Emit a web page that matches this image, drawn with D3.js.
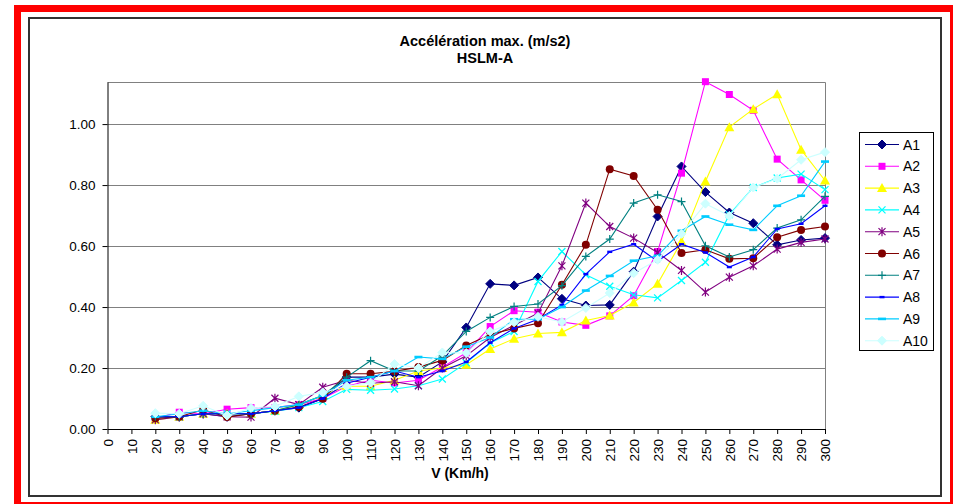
<!DOCTYPE html>
<html>
<head>
<meta charset="utf-8">
<script src="https://cdn.jsdelivr.net/npm/d3@7"></script>
<style>
  body { margin: 0; background: #fff; }
  svg { display: block; font-family: Arial, "Liberation Sans", sans-serif; }
</style>
</head>
<body>
<svg id="chart" width="953" height="504"></svg>
<script>
// speeds (km/h) and max acceleration (m/s2) per series
var speeds = [20, 30, 40, 50, 60, 70, 80, 90, 100, 110, 120, 130, 140, 150, 160, 170, 180, 190, 200, 210, 220, 230, 240, 250, 260, 270, 280, 290, 300]
var xTicks = [0, 10, 20, 30, 40, 50, 60, 70, 80, 90, 100, 110, 120, 130, 140, 150, 160, 170, 180, 190, 200, 210, 220, 230, 240, 250, 260, 270, 280, 290, 300]
var yTicks = [0, 0.2, 0.4, 0.6, 0.8, 1.0]

var A1 = [.04, .04, .05, .04, .05, .06, .07, .10, .17, .17, .18, .17, .22, .333, .476, .471, .497, .427, .405, .407, .516, .697, .861, .777, .71, .675, .604, .62, .626]
var A2 = [.035, .055, .05, .065, .07, .07, .08, .10, .14, .16, .151, .16, .203, .25, .336, .388, .383, .351, .34, .371, .437, .582, .839, 1.139, 1.097, 1.045, .885, .817, .75]
var A3 = [.03, .04, .05, .05, .05, .06, .08, .11, .14, .14, .16, .19, .20, .211, .262, .296, .313, .317, .356, .372, .415, .476, .615, .812, .99, 1.049, 1.098, .916, .815]
var A4 = [.04, .04, .05, .05, .05, .058, .07, .09, .13, .127, .131, .142, .164, .217, .282, .32, .484, .582, .506, .468, .44, .43, .487, .547, .703, .792, .823, .836, .785]
var A5 = [.03, .04, .05, .04, .039, .101, .08, .137, .16, .15, .155, .142, .20, .24, .30, .34, .38, .535, .741, .664, .626, .579, .52, .449, .498, .535, .59, .612, .623]
var A6 = [.035, .04, .063, .039, .05, .06, .072, .099, .181, .181, .189, .203, .225, .274, .31, .33, .347, .473, .604, .852, .83, .719, .577, .588, .558, .56, .629, .653, .664]
var A7 = [.04, .04, .05, .05, .05, .06, .08, .11, .17, .224, .19, .19, .24, .32, .366, .402, .41, .47, .566, .623, .741, .768, .746, .601, .564, .588, .659, .686, .763]
var A8 = [.04, .04, .05, .05, .05, .06, .07, .10, .15, .17, .19, .17, .19, .22, .283, .33, .36, .407, .508, .581, .606, .55, .606, .579, .531, .564, .656, .673, .732]
var A9 = [.04, .05, .06, .05, .06, .07, .08, .11, .16, .17, .19, .236, .23, .27, .30, .36, .36, .40, .454, .502, .552, .568, .65, .697, .67, .653, .732, .765, .877]
var A10 = [.052, .05, .076, .044, .069, .074, .107, .12, .14, .152, .213, .20, .251, .249, .32, .35, .368, .351, .397, .446, .511, .555, .64, .739, .699, .792, .821, .883, .908]

var seriesNames = ["A1", "A2", "A3", "A4", "A5", "A6", "A7", "A8", "A9", "A10"]
var seriesValues = [A1, A2, A3, A4, A5, A6, A7, A8, A9, A10]
var seriesColors = ["#000080", "#ff00ff", "#ffff00", "#00ffff", "#800080", "#800000", "#008080", "#0000ff", "#00ccff", "#ccffff"]
var seriesMarkers = ["diamond", "square", "triangle", "x", "star", "circle", "plus", "dashS", "dashL", "diamond"]

var svg = d3.select("#chart")

// outer frames
svg.append("rect").attr("x", 17.5).attr("y", 8.5).attr("width", 936).attr("height", 497)
  .attr("fill", "#fff").attr("stroke", "#ff0000").attr("stroke-width", 7)
svg.append("rect").attr("x", 29).attr("y", 18).attr("width", 912).attr("height", 478)
  .attr("fill", "#fff").attr("stroke", "#333").attr("stroke-width", 2)

var plot = { left: 107.5, right: 825, top: 82, bottom: 429 }

var x = d3.scaleLinear().domain([0, 300]).range([plot.left, plot.right])
var y = d3.scaleLinear().domain([0, 1.138]).range([plot.bottom, plot.top])

// gridlines + plot border
svg.append("g").selectAll("line").data(yTicks.slice(1)).enter().append("line")
  .attr("x1", plot.left).attr("x2", plot.right)
  .attr("y1", function (d) { return Math.round(y(d)) + 0.5 })
  .attr("y2", function (d) { return Math.round(y(d)) + 0.5 })
  .attr("stroke", "#808080")
svg.append("path")
  .attr("d", "M" + plot.left + "," + (plot.top + 0.5) + "H" + (plot.right + 0.5) + "V" + plot.bottom)
  .attr("fill", "none").attr("stroke", "#808080")

// axes
var xAxis = svg.append("g").attr("transform", "translate(0," + plot.bottom + ")")
  .call(d3.axisBottom(x).tickValues(xTicks).tickSize(5).tickSizeOuter(0))
xAxis.selectAll("text")
  .attr("transform", "rotate(-90)")
  .attr("text-anchor", "end")
  .attr("x", -10).attr("y", 0).attr("dy", "0.35em")
var yAxis = svg.append("g").attr("transform", "translate(" + plot.left + ",0)")
  .call(d3.axisLeft(y).tickValues(yTicks).tickFormat(d3.format(".2f")).tickSize(5).tickSizeOuter(0).tickPadding(7))
svg.selectAll(".tick text").attr("font-size", 13.5).attr("fill", "#000").attr("font-family", "Arial, 'Liberation Sans', sans-serif")
svg.selectAll(".domain, .tick line").attr("stroke", "#000")

// titles
svg.append("text").attr("x", 485).attr("y", 45.5).attr("text-anchor", "middle")
  .attr("font-size", 14.5).attr("font-weight", "bold").text("Accélération max. (m/s2)")
svg.append("text").attr("x", 485).attr("y", 63).attr("text-anchor", "middle")
  .attr("font-size", 14.5).attr("font-weight", "bold").text("HSLM-A")
svg.append("text").attr("x", 460).attr("y", 478).attr("text-anchor", "middle")
  .attr("font-size", 14).attr("font-weight", "bold").text("V (Km/h)")

function marker(sel, type, color) {
  if (type == "diamond") {
    sel.append("path").attr("d", "M0,-4.5L4.5,0L0,4.5L-4.5,0Z").attr("fill", color).attr("stroke", color)
  } else if (type == "square") {
    sel.append("rect").attr("x", -3.5).attr("y", -3.5).attr("width", 7).attr("height", 7).attr("fill", color)
  } else if (type == "triangle") {
    sel.append("path").attr("d", "M0,-5L5,4L-5,4Z").attr("fill", color)
  } else if (type == "x") {
    sel.append("path").attr("d", "M-3.5,-3.5L3.5,3.5M-3.5,3.5L3.5,-3.5").attr("stroke", color).attr("stroke-width", 1.3)
  } else if (type == "star") {
    sel.append("path").attr("d", "M-3.5,-3.5L3.5,3.5M-3.5,3.5L3.5,-3.5M0,-4.5V4.5").attr("stroke", color).attr("stroke-width", 1.2)
  } else if (type == "circle") {
    sel.append("circle").attr("r", 4).attr("fill", color)
  } else if (type == "plus") {
    sel.append("path").attr("d", "M-4,0H4M0,-4V4").attr("stroke", color).attr("stroke-width", 1.2)
  } else if (type == "dashS") {
    sel.append("rect").attr("x", -2.5).attr("y", -1.2).attr("width", 5).attr("height", 2.4).attr("fill", color)
  } else if (type == "dashL") {
    sel.append("rect").attr("x", -4).attr("y", -1.3).attr("width", 8).attr("height", 2.6).attr("fill", color)
  }
}

var line = d3.line()
  .x(function (d, i) { return x(speeds[i]) })
  .y(function (d) { return y(d) })

seriesValues.forEach(function (vals, k) {
  var g = svg.append("g")
  g.append("path").datum(vals).attr("d", line)
    .attr("fill", "none").attr("stroke", seriesColors[k]).attr("stroke-width", 1.1)
  g.selectAll(".m").data(vals).enter().append("g")
    .attr("transform", function (d, i) { return "translate(" + x(speeds[i]) + "," + y(d) + ")" })
    .each(function () { marker(d3.select(this), seriesMarkers[k], seriesColors[k]) })
})

// legend
var legend = svg.append("g")
legend.append("rect").attr("x", 859.5).attr("y", 132.5).attr("width", 74).attr("height", 218)
  .attr("fill", "#fff").attr("stroke", "#000")
seriesNames.forEach(function (name, k) {
  var ly = 144.5 + k * 21.8
  legend.append("line").attr("x1", 865).attr("x2", 899).attr("y1", ly).attr("y2", ly)
    .attr("stroke", seriesColors[k]).attr("stroke-width", 1.1)
  marker(legend.append("g").attr("transform", "translate(882," + ly + ")"), seriesMarkers[k], seriesColors[k])
  legend.append("text").attr("x", 903).attr("y", ly).attr("dy", "0.36em")
    .attr("font-size", 14).text(name)
})
</script>
</body>
</html>
